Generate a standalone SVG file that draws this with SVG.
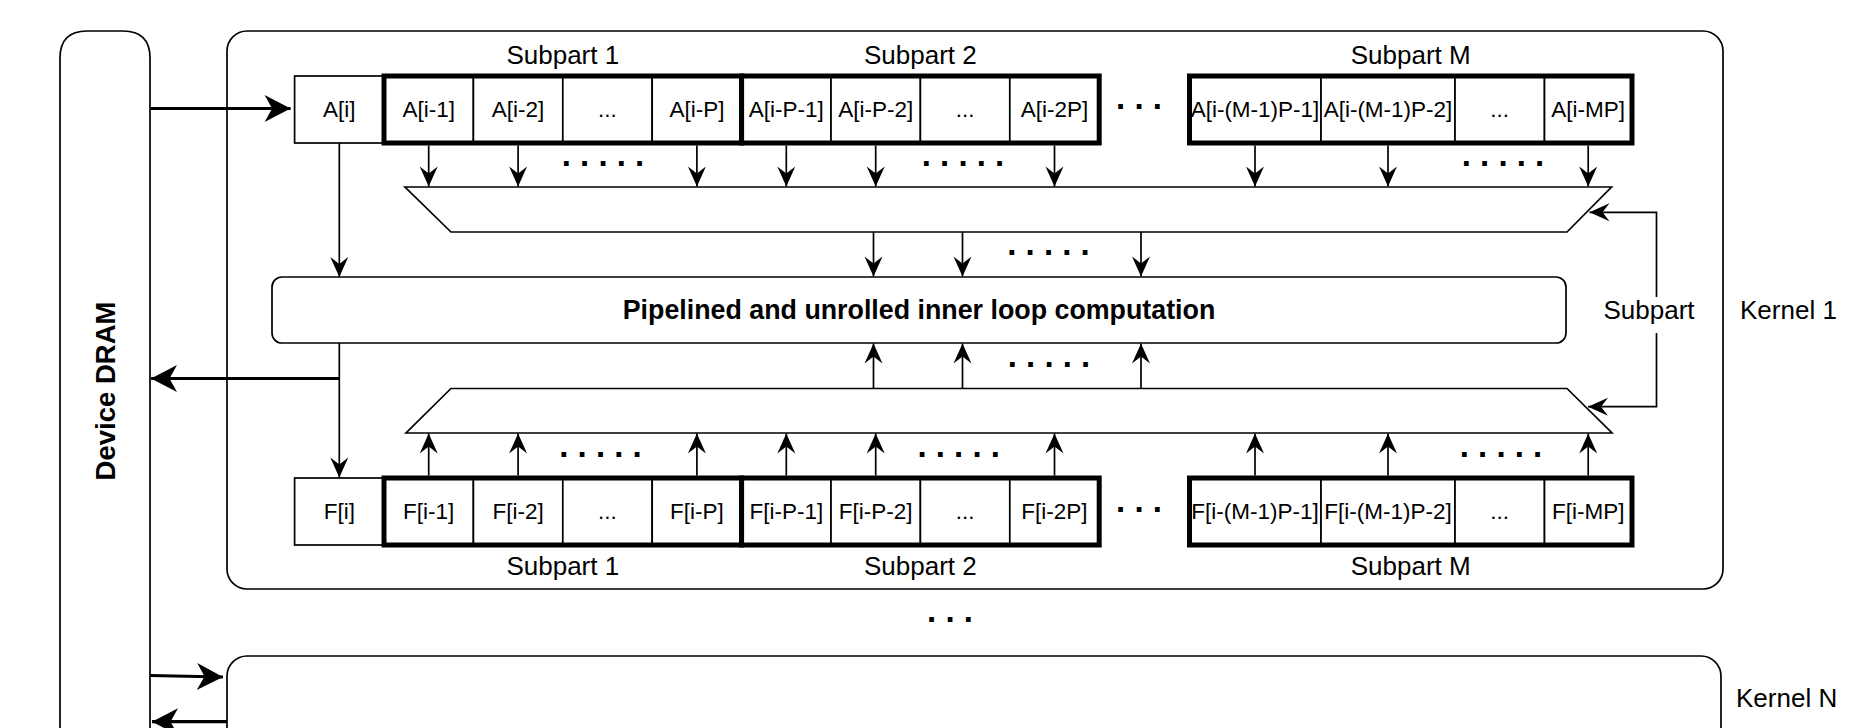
<svg xmlns="http://www.w3.org/2000/svg" width="1857" height="728" viewBox="0 0 1857 728">
  <style>
    .box { fill: #fff; stroke: #000; stroke-width: 1.7; }
    .grp { fill: none; stroke: #000; stroke-width: 5; }
    .cell { fill: #fff; stroke: #000; stroke-width: 1.7; }
    .wire { fill: none; stroke: #000; stroke-width: 1.7; }
    .bus { fill: none; stroke: #000; stroke-width: 3.2; }
    .t { font-family: "Liberation Sans", Arial, sans-serif; fill: #000; }
    .cellt { font-size: 22.5px; text-anchor: middle; dominant-baseline: central; }
    .lbl { font-size: 26px; dominant-baseline: central; }
    .mid { text-anchor: middle; }
    .bold { font-weight: bold; font-size: 26.8px; text-anchor: middle; dominant-baseline: central; }
    .side { font-size: 27.5px; }
    .dots { font-weight: bold; font-size: 33px; text-anchor: middle; }
  </style>
  <defs>
    <marker id="arr" markerUnits="userSpaceOnUse" markerWidth="20" markerHeight="18" refX="20" refY="9" orient="auto" overflow="visible">
      <path d="M0,0 L20,9 L0,18 L7,9 Z" fill="#000"/>
    </marker>
    <marker id="arrBig" markerUnits="userSpaceOnUse" markerWidth="26" markerHeight="27" refX="26" refY="13.5" orient="auto" overflow="visible">
      <path d="M0,0 L26,13.5 L0,27 L7.5,13.5 Z" fill="#000"/>
    </marker>
  </defs>

  <!-- memory column -->
  <g id="dram">
    <path class="box" d="M60,760 L60,58 Q60,31 87,31 L123,31 Q150,31 150,58 L150,760"/>
    <text class="t bold side" transform="translate(105,391) rotate(-90)">Device DRAM</text>
  </g>

  <!-- kernel frames -->
  <g id="kernel1">
    <rect class="box" x="227" y="31" width="1496" height="558" rx="20" ry="20"/>
    <text class="t lbl" x="1740" y="310">Kernel 1</text>
  </g>
  <g id="kernelN">
    <rect class="box" x="227" y="656" width="1494" height="120" rx="20" ry="20"/>
    <text class="t lbl" x="1736" y="698">Kernel N</text>
  </g>

  <!-- A shift register -->
  <g id="a-row">
    <rect class="cell" x="294.6" y="76" width="89.4" height="67"/>
    <text class="t cellt" x="339.3" y="109.5">A[i]</text>

    <rect class="cell" x="384" y="76" width="89.4" height="67"/>
    <rect class="cell" x="473.4" y="76" width="89.4" height="67"/>
    <rect class="cell" x="562.8" y="76" width="89.4" height="67"/>
    <rect class="cell" x="652.2" y="76" width="89.4" height="67"/>
    <rect class="grp" x="384" y="76" width="357.6" height="67"/>
    <text class="t cellt" x="428.7" y="109.5">A[i-1]</text>
    <text class="t cellt" x="518.1" y="109.5">A[i-2]</text>
    <text class="t cellt" x="607.5" y="109.5">...</text>
    <text class="t cellt" x="696.9" y="109.5">A[i-P]</text>

    <rect class="cell" x="741.6" y="76" width="89.4" height="67"/>
    <rect class="cell" x="831" y="76" width="89.4" height="67"/>
    <rect class="cell" x="920.4" y="76" width="89.4" height="67"/>
    <rect class="cell" x="1009.8" y="76" width="89.4" height="67"/>
    <rect class="grp" x="741.6" y="76" width="357.6" height="67"/>
    <text class="t cellt" x="786.3" y="109.5">A[i-P-1]</text>
    <text class="t cellt" x="875.7" y="109.5">A[i-P-2]</text>
    <text class="t cellt" x="965.1" y="109.5">...</text>
    <text class="t cellt" x="1054.5" y="109.5">A[i-2P]</text>

    <rect class="cell" x="1189.5" y="76" width="131.5" height="67"/>
    <rect class="cell" x="1321" y="76" width="134" height="67"/>
    <rect class="cell" x="1455" y="76" width="89.5" height="67"/>
    <rect class="cell" x="1544.5" y="76" width="87.5" height="67"/>
    <rect class="grp" x="1189.5" y="76" width="442.5" height="67"/>
    <text class="t cellt" x="1255" y="109.5">A[i-(M-1)P-1]</text>
    <text class="t cellt" x="1388" y="109.5">A[i-(M-1)P-2]</text>
    <text class="t cellt" x="1499.7" y="109.5">...</text>
    <text class="t cellt" x="1588.2" y="109.5">A[i-MP]</text>

    <text class="t dots" x="1139" y="109.3">. . .</text>
    <text class="t lbl mid" x="562.8" y="55">Subpart 1</text>
    <text class="t lbl mid" x="920.4" y="55">Subpart 2</text>
    <text class="t lbl mid" x="1410.7" y="55">Subpart M</text>
  </g>

  <!-- F shift register -->
  <g id="f-row">
    <rect class="cell" x="294.6" y="478" width="89.4" height="67"/>
    <text class="t cellt" x="339.3" y="511.5">F[i]</text>

    <rect class="cell" x="384" y="478" width="89.4" height="67"/>
    <rect class="cell" x="473.4" y="478" width="89.4" height="67"/>
    <rect class="cell" x="562.8" y="478" width="89.4" height="67"/>
    <rect class="cell" x="652.2" y="478" width="89.4" height="67"/>
    <rect class="grp" x="384" y="478" width="357.6" height="67"/>
    <text class="t cellt" x="428.7" y="511.5">F[i-1]</text>
    <text class="t cellt" x="518.1" y="511.5">F[i-2]</text>
    <text class="t cellt" x="607.5" y="511.5">...</text>
    <text class="t cellt" x="696.9" y="511.5">F[i-P]</text>

    <rect class="cell" x="741.6" y="478" width="89.4" height="67"/>
    <rect class="cell" x="831" y="478" width="89.4" height="67"/>
    <rect class="cell" x="920.4" y="478" width="89.4" height="67"/>
    <rect class="cell" x="1009.8" y="478" width="89.4" height="67"/>
    <rect class="grp" x="741.6" y="478" width="357.6" height="67"/>
    <text class="t cellt" x="786.3" y="511.5">F[i-P-1]</text>
    <text class="t cellt" x="875.7" y="511.5">F[i-P-2]</text>
    <text class="t cellt" x="965.1" y="511.5">...</text>
    <text class="t cellt" x="1054.5" y="511.5">F[i-2P]</text>

    <rect class="cell" x="1189.5" y="478" width="131.5" height="67"/>
    <rect class="cell" x="1321" y="478" width="134" height="67"/>
    <rect class="cell" x="1455" y="478" width="89.5" height="67"/>
    <rect class="cell" x="1544.5" y="478" width="87.5" height="67"/>
    <rect class="grp" x="1189.5" y="478" width="442.5" height="67"/>
    <text class="t cellt" x="1255" y="511.5">F[i-(M-1)P-1]</text>
    <text class="t cellt" x="1388" y="511.5">F[i-(M-1)P-2]</text>
    <text class="t cellt" x="1499.7" y="511.5">...</text>
    <text class="t cellt" x="1588.2" y="511.5">F[i-MP]</text>

    <text class="t dots" x="1139" y="511.6">. . .</text>
    <text class="t lbl mid" x="562.8" y="565.5">Subpart 1</text>
    <text class="t lbl mid" x="920.4" y="565.5">Subpart 2</text>
    <text class="t lbl mid" x="1410.7" y="565.5">Subpart M</text>
  </g>

  <!-- selectors -->
  <g id="mux-a">
    <polygon class="box" points="405,187 1611.5,187 1567,232 451,232"/>
  </g>
  <g id="mux-f">
    <polygon class="box" points="451,388.5 1567,388.5 1612,433 406,433"/>
  </g>

  <!-- compute core -->
  <g id="compute">
    <rect class="box" x="272" y="277" width="1294" height="66" rx="10" ry="10"/>
    <text class="t bold" x="919" y="310">Pipelined and unrolled inner loop computation</text>
  </g>

  <g id="subpart-sel">
    <text class="t lbl mid" x="1649" y="310">Subpart</text>
  </g>

  <g id="between-kernels">
    <text class="t dots" x="950" y="622.3">. . .</text>
  </g>

  <!-- connectors -->
  <g id="connectors">
    <!-- DRAM traffic -->
    <path class="bus" d="M150,108.5 L290.6,108.5" marker-end="url(#arrBig)"/>
    <path class="bus" d="M339.3,378.5 L151,378.5" marker-end="url(#arrBig)"/>
    <path class="bus" d="M150,675.5 L223,677" marker-end="url(#arrBig)"/>
    <path class="bus" d="M227,721.7 L152,721.7" marker-end="url(#arrBig)"/>

    <!-- A[i] to core, core to F[i] -->
    <path class="wire" d="M339.3,143 L339.3,277" marker-end="url(#arr)"/>
    <path class="wire" d="M339.3,343 L339.3,477.5" marker-end="url(#arr)"/>

    <!-- A taps into selector -->
    <path class="wire" d="M428.7,145.5 L428.7,186.5" marker-end="url(#arr)"/>
    <path class="wire" d="M518.1,145.5 L518.1,186.5" marker-end="url(#arr)"/>
    <path class="wire" d="M696.9,145.5 L696.9,186.5" marker-end="url(#arr)"/>
    <path class="wire" d="M786.3,145.5 L786.3,186.5" marker-end="url(#arr)"/>
    <path class="wire" d="M875.7,145.5 L875.7,186.5" marker-end="url(#arr)"/>
    <path class="wire" d="M1054.5,145.5 L1054.5,186.5" marker-end="url(#arr)"/>
    <path class="wire" d="M1255,145.5 L1255,186.5" marker-end="url(#arr)"/>
    <path class="wire" d="M1388,145.5 L1388,186.5" marker-end="url(#arr)"/>
    <path class="wire" d="M1588.2,145.5 L1588.2,186.5" marker-end="url(#arr)"/>
    <text class="t dots" x="603" y="166.3">. . . . .</text>
    <text class="t dots" x="963" y="166.3">. . . . .</text>
    <text class="t dots" x="1503" y="166.3">. . . . .</text>

    <!-- selector outputs into core -->
    <path class="wire" d="M873.5,232 L873.5,276.5" marker-end="url(#arr)"/>
    <path class="wire" d="M962.5,232 L962.5,276.5" marker-end="url(#arr)"/>
    <path class="wire" d="M1141,232 L1141,276.5" marker-end="url(#arr)"/>
    <text class="t dots" x="1048.5" y="255.3">. . . . .</text>

    <path class="wire" d="M873.5,388.5 L873.5,343.5" marker-end="url(#arr)"/>
    <path class="wire" d="M962.5,388.5 L962.5,343.5" marker-end="url(#arr)"/>
    <path class="wire" d="M1141,388.5 L1141,343.5" marker-end="url(#arr)"/>
    <text class="t dots" x="1049" y="367.3">. . . . .</text>

    <!-- F taps into selector -->
    <path class="wire" d="M428.7,475.5 L428.7,433.5" marker-end="url(#arr)"/>
    <path class="wire" d="M518.1,475.5 L518.1,433.5" marker-end="url(#arr)"/>
    <path class="wire" d="M696.9,475.5 L696.9,433.5" marker-end="url(#arr)"/>
    <path class="wire" d="M786.3,475.5 L786.3,433.5" marker-end="url(#arr)"/>
    <path class="wire" d="M875.7,475.5 L875.7,433.5" marker-end="url(#arr)"/>
    <path class="wire" d="M1054.5,475.5 L1054.5,433.5" marker-end="url(#arr)"/>
    <path class="wire" d="M1255,475.5 L1255,433.5" marker-end="url(#arr)"/>
    <path class="wire" d="M1388,475.5 L1388,433.5" marker-end="url(#arr)"/>
    <path class="wire" d="M1588.2,475.5 L1588.2,433.5" marker-end="url(#arr)"/>
    <text class="t dots" x="600.5" y="456.6">. . . . .</text>
    <text class="t dots" x="958.7" y="456.6">. . . . .</text>
    <text class="t dots" x="1501" y="456.6">. . . . .</text>

    <!-- subpart select lines -->
    <path class="wire" d="M1656.5,297 L1656.5,212.3 L1589.5,212.3" marker-end="url(#arr)"/>
    <path class="wire" d="M1656.5,333 L1656.5,406.7 L1588,406.7" marker-end="url(#arr)"/>
  </g>
</svg>
